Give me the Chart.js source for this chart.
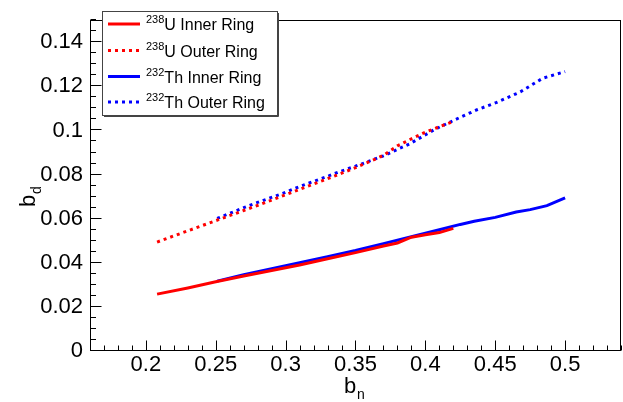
<!DOCTYPE html>
<html>
<head>
<meta charset="utf-8">
<script src="https://cdn.jsdelivr.net/npm/chart.js@4.4.1/dist/chart.umd.min.js"></script>
<style>
  html, body { margin: 0; padding: 0; background: #fff; }
  canvas { display: block; }
</style>
</head>
<body>
<canvas id="myChart" width="623" height="402"></canvas>
<script>
// data
const uInnerX = [0.208, 0.23, 0.25, 0.27, 0.29, 0.31, 0.33, 0.35, 0.37, 0.38, 0.39, 0.40, 0.41, 0.42]
const uInnerY = [0.0258, 0.0286, 0.0314, 0.0340, 0.0365, 0.0390, 0.0418, 0.0446, 0.0476, 0.0490, 0.0516, 0.0527, 0.0537, 0.0556]

const uOuterX = [0.208, 0.23, 0.25, 0.27, 0.29, 0.31, 0.33, 0.35, 0.37, 0.38, 0.39, 0.40, 0.41, 0.42]
const uOuterY = [0.0494, 0.0545, 0.0591, 0.0637, 0.0684, 0.0733, 0.0781, 0.0831, 0.0887, 0.0930, 0.0962, 0.0992, 0.1017, 0.1041]

const thInnerX = [0.251, 0.27, 0.29, 0.31, 0.33, 0.35, 0.37, 0.39, 0.41, 0.425, 0.435, 0.45, 0.465, 0.475, 0.487, 0.50]
const thInnerY = [0.0317, 0.0346, 0.0373, 0.0400, 0.0428, 0.0456, 0.0487, 0.0518, 0.0550, 0.0574, 0.0588, 0.0606, 0.0630, 0.0641, 0.0659, 0.0694]

const thOuterX = [0.251, 0.274, 0.298, 0.31, 0.33, 0.339, 0.35, 0.37, 0.389, 0.407, 0.424, 0.437, 0.451, 0.468, 0.484, 0.50]
const thOuterY = [0.0601, 0.0660, 0.0715, 0.0746, 0.0792, 0.0814, 0.0838, 0.0885, 0.0940, 0.1006, 0.1057, 0.1094, 0.1127, 0.1175, 0.1237, 0.1267]

const xTicks = [0.2, 0.25, 0.3, 0.35, 0.4, 0.45, 0.5]
const yTicks = [0, 0.02, 0.04, 0.06, 0.08, 0.1, 0.12, 0.14]

const legendIso = ["238", "238", "232", "232"]
const legendName = ["U Inner Ring", "U Outer Ring", "Th Inner Ring", "Th Outer Ring"]

const FONT = "'Liberation Sans', Arial, Helvetica, sans-serif"

function toPoints(xs, ys) {
  return xs.map((x, i) => ({ x: x, y: ys[i] }))
}

function series(xs, ys, color, dashed) {
  return {
    data: toPoints(xs, ys),
    borderColor: color,
    backgroundColor: color,
    borderWidth: 3,
    borderDash: dashed ? [3, 4] : [],
    pointRadius: 0,
    showLine: true,
    tension: 0,
    fill: false,
  }
}

// frame, inward ticks, axis titles and the legend, ROOT style
const rootStyle = {
  id: "rootStyle",
  afterDraw(chart) {
    const ctx = chart.ctx
    const a = chart.chartArea
    const xs = chart.scales.x
    const ys = chart.scales.y
    ctx.save()
    ctx.strokeStyle = "#000"
    ctx.lineWidth = 1
    ctx.strokeRect(Math.round(a.left) + 0.5, Math.round(a.top) + 0.5,
      Math.round(a.right - a.left) - 1, Math.round(a.bottom - a.top) - 1)

    ctx.beginPath()
    const bot = Math.round(a.bottom) - 0.5
    for (let i = 16; i <= 54; i++) {
      const v = i / 100
      const px = Math.round(xs.getPixelForValue(v)) + 0.5
      const len = i % 5 === 0 ? 10 : 5
      ctx.moveTo(px, bot)
      ctx.lineTo(px, bot - len)
    }
    const lft = Math.round(a.left) + 0.5
    for (let i = 0; i <= 30; i++) {
      const v = i * 0.005
      const py = Math.round(ys.getPixelForValue(v)) - 0.5
      const len = i % 4 === 0 ? 11 : 5.5
      ctx.moveTo(lft, py)
      ctx.lineTo(lft + len, py)
    }
    ctx.stroke()

    // axis titles
    ctx.fillStyle = "#000"
    ctx.textBaseline = "alphabetic"
    ctx.font = "22px " + FONT
    ctx.fillText("b", 344, 393)
    ctx.font = "14px " + FONT
    ctx.fillText("n", 357, 399)

    ctx.save()
    ctx.translate(35, 207)
    ctx.rotate(-Math.PI / 2)
    ctx.font = "22px " + FONT
    ctx.fillText("b", 0, 0)
    ctx.font = "14px " + FONT
    ctx.fillText("d", 13, 6)
    ctx.restore()

    // legend
    const lx = 102, ly = 11, lw = 175, lh = 104
    ctx.fillStyle = "#fff"
    ctx.fillRect(lx, ly, lw, lh)
    ctx.strokeStyle = "#444"
    ctx.strokeRect(lx + 0.5, ly + 0.5, lw, lh)
    ctx.beginPath()
    ctx.moveTo(lx + lw + 1.5, ly + 2)
    ctx.lineTo(lx + lw + 1.5, ly + lh + 1.5)
    ctx.lineTo(lx + 2, ly + lh + 1.5)
    ctx.stroke()

    const rows = [24, 50.5, 76.5, 102]
    chart.data.datasets.forEach((ds, i) => {
      ctx.strokeStyle = ds.borderColor
      ctx.lineWidth = 3
      ctx.setLineDash(ds.borderDash)
      ctx.beginPath()
      ctx.moveTo(108, rows[i])
      ctx.lineTo(140, rows[i])
      ctx.stroke()
      ctx.setLineDash([])
      ctx.fillStyle = "#000"
      ctx.font = "11px " + FONT
      ctx.fillText(legendIso[i], 146, rows[i] - 1)
      const w = ctx.measureText(legendIso[i]).width
      ctx.font = "16px " + FONT
      ctx.fillText(legendName[i], 146 + w, rows[i] + 6)
    })
    ctx.restore()
  },
}

const ctx = document.getElementById("myChart").getContext("2d")
const myChart = new Chart(ctx, {
  type: "scatter",
  data: {
    datasets: [
      series(uInnerX, uInnerY, "#ff0000", false),
      series(uOuterX, uOuterY, "#ff0000", true),
      series(thInnerX, thInnerY, "#0000ff", false),
      series(thOuterX, thOuterY, "#0000ff", true),
    ],
  },
  options: {
    responsive: false,
    animation: false,
    layout: { padding: { top: 11, right: 2, left: 0, bottom: 0 } },
    plugins: {
      legend: { display: false },
      tooltip: { enabled: false },
    },
    scales: {
      x: {
        type: "linear",
        min: 0.16,
        max: 0.54,
        grid: { display: false, drawTicks: false },
        border: { display: false },
        afterBuildTicks: (scale) => { scale.ticks = xTicks.map((v) => ({ value: v })) },
        afterFit: (scale) => { scale.height = 51 },
        ticks: {
          autoSkip: false,
          maxRotation: 0,
          padding: 1,
          color: "#000",
          font: { family: FONT, size: 22 },
          callback: (v) => String(+v.toFixed(3)),
        },
      },
      y: {
        type: "linear",
        min: 0,
        max: 0.15,
        grid: { display: false, drawTicks: false },
        border: { display: false },
        afterBuildTicks: (scale) => { scale.ticks = yTicks.map((v) => ({ value: v })) },
        afterFit: (scale) => { scale.width = 90 },
        ticks: {
          autoSkip: false,
          padding: 7,
          color: "#000",
          font: { family: FONT, size: 22 },
          callback: (v) => String(+v.toFixed(3)),
        },
      },
    },
  },
  plugins: [rootStyle],
})
</script>
</body>
</html>
